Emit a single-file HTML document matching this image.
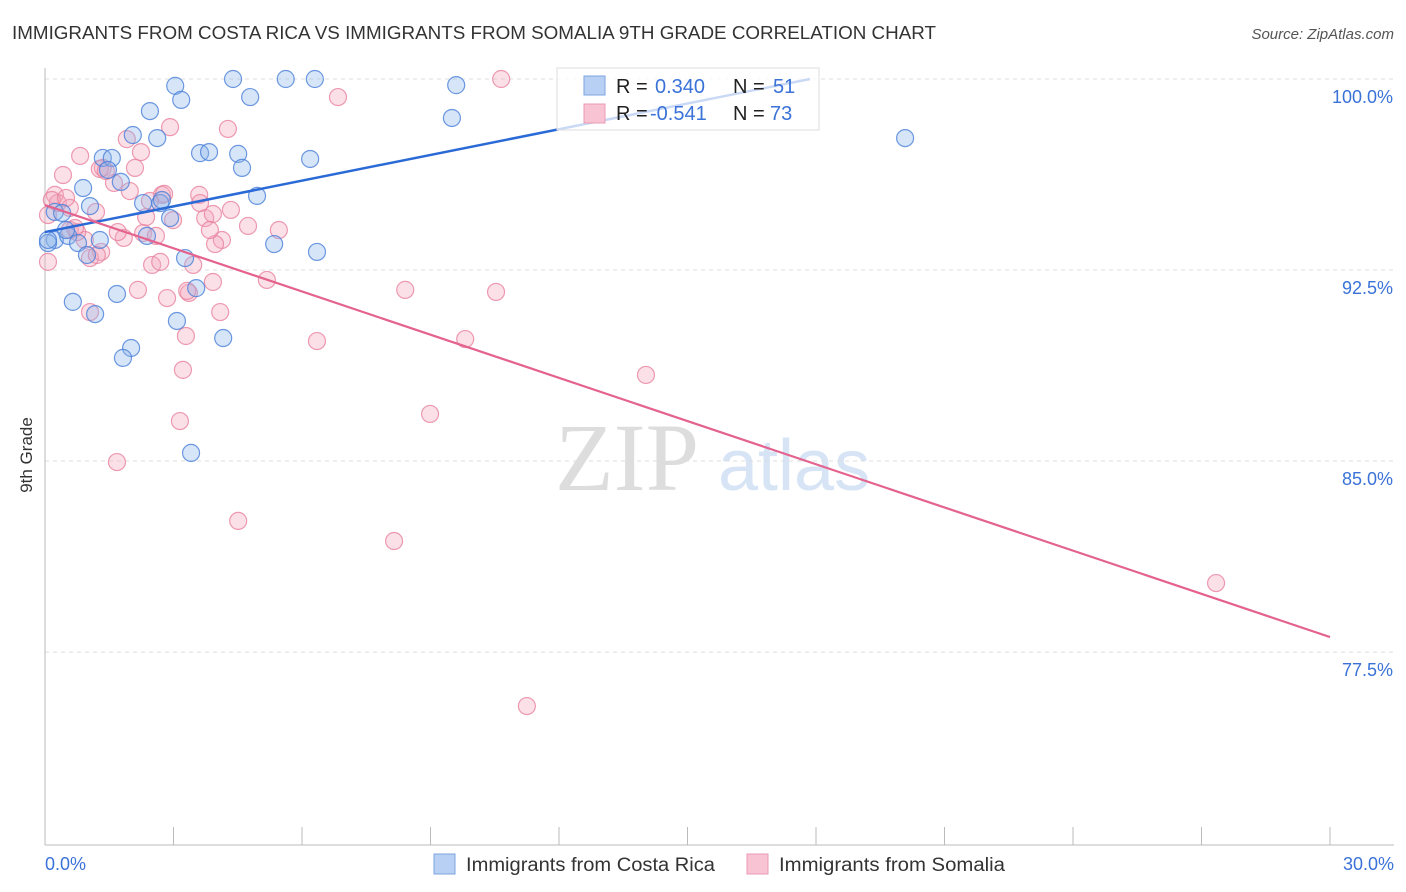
<!DOCTYPE html>
<html><head><meta charset="utf-8"><style>
body{margin:0;background:#fff;font-family:"Liberation Sans",sans-serif;}
svg{display:block}
</style></head><body>
<svg id="chart" width="1406" height="892">
<text x="12" y="39" font-size="18" fill="#333" textLength="924" lengthAdjust="spacingAndGlyphs">IMMIGRANTS FROM COSTA RICA VS IMMIGRANTS FROM SOMALIA 9TH GRADE CORRELATION CHART</text>
<text x="1394" y="39" font-size="15" fill="#555" font-style="italic" text-anchor="end">Source: ZipAtlas.com</text>
<text x="32" y="455" font-size="17" fill="#333" transform="rotate(-90 32 455)" text-anchor="middle">9th Grade</text>
<g><text x="555" y="490" font-size="96" fill="#ddd" font-family="Liberation Serif,serif">ZIP</text><text x="718" y="490" font-size="72" fill="#d6e4f5">atlas</text></g>
<g id="grid"></g><g id="axes"></g><g id="pts"></g><g id="trends"></g>
<g>
<rect x="557" y="68" width="262" height="62" fill="#fff" fill-opacity="0.75" stroke="#ddd"/>
<rect x="584" y="76" width="21" height="19" fill="#b7d0f3" stroke="#7ea6e0"/>
<rect x="584" y="104" width="21" height="19" fill="#f8c4d3" stroke="#eb9ab3"/>
<text x="616" y="93" font-size="20" fill="#222">R = <tspan x="655" fill="#3a72d8">0.340</tspan><tspan x="733">N = </tspan><tspan x="773" fill="#3a72d8">51</tspan></text>
<text x="616" y="120" font-size="20" fill="#222">R = <tspan x="650" fill="#3a72d8">-0.541</tspan><tspan x="733">N = </tspan><tspan x="770" fill="#3a72d8">73</tspan></text>
</g>
<g>
<rect x="434" y="854" width="21" height="20" fill="#b7d0f3" stroke="#7ea6e0"/>
<text x="466" y="871" font-size="19" fill="#333" textLength="249" lengthAdjust="spacingAndGlyphs">Immigrants from Costa Rica</text>
<rect x="747" y="854" width="21" height="20" fill="#f8c4d3" stroke="#eb9ab3"/>
<text x="779" y="871" font-size="19" fill="#333" textLength="226" lengthAdjust="spacingAndGlyphs">Immigrants from Somalia</text>
</g>
</svg>
<script>
const blueX=[3.04,4.39,5.62,6.30,9.60,9.50,3.18,2.45,4.79,2.05,2.62,20.08,1.35,1.56,3.62,3.83,4.51,4.60,6.19,1.47,1.77,0.89,0.23,0.40,1.05,2.29,2.69,2.92,4.95,2.73,0.23,0.54,0.77,1.28,2.38,0.07,0.98,3.27,5.35,6.35,1.68,0.65,1.17,3.53,3.08,4.16,2.01,1.82,3.41,0.07,0.49];
const blueY=[99.73,100,100,100,99.76,98.47,99.18,98.74,99.29,97.80,97.68,97.68,96.90,96.90,97.09,97.13,97.06,96.51,96.86,96.43,95.96,95.72,94.78,94.74,95.01,95.13,95.13,94.54,95.41,95.25,93.68,93.84,93.56,93.68,93.84,93.56,93.09,92.97,93.52,93.21,91.56,91.25,90.77,91.79,90.50,89.83,89.44,89.05,85.32,93.68,94.07];
const pinkX=[10.65,6.84,2.92,4.27,1.91,2.24,0.82,0.42,1.35,2.10,1.61,1.98,2.73,3.60,0.23,0.30,0.58,1.19,2.36,2.99,3.74,3.92,4.74,5.46,1.84,2.29,2.59,4.13,0.58,0.93,1.05,1.31,2.50,3.46,2.17,2.85,3.36,3.92,5.18,4.09,1.05,3.29,6.35,8.41,10.53,9.81,14.03,3.22,3.15,8.99,1.68,4.51,8.15,27.34,11.25,0.07,0.16,0.75,1.21,1.70,3.62,2.78,2.69,3.97,3.85,0.07,0.70,0.49,1.28,1.42,2.45,3.32,4.34];
const pinkY=[100,99.29,98.11,98.04,97.64,97.13,96.98,96.23,96.51,96.51,95.92,95.60,95.45,95.45,95.45,95.13,94.94,94.78,94.58,94.46,94.54,94.70,94.23,94.07,93.76,93.95,93.84,93.68,94.07,93.68,92.97,93.21,92.70,92.70,91.72,91.40,91.60,92.03,92.11,90.85,90.85,89.91,89.71,91.72,91.64,89.79,88.38,88.58,86.57,86.85,84.96,82.65,81.86,80.21,75.38,92.82,95.25,93.99,93.09,93.99,95.13,95.49,92.82,93.52,94.07,94.66,94.15,95.33,96.47,96.39,95.21,91.68,94.86];
const yTicks=[100,92.5,85,77.5];
const yTickLabels=["100.0%","92.5%","85.0%","77.5%"];
const xTicks=[0,3,6,9,12,15,18,21,24,27,30];
const blueTrend=[0,93.99,17.86,100];
const pinkTrend=[0,95.05,30,78.09];
const NS="http://www.w3.org/2000/svg";
const X0=45,X1=1330,Y0=79;
function sx(v){return X0+(v/30)*(X1-X0);}
function sy(v){return Y0+(100-v)*25.47;}
function mk(t,a,p){const e=document.createElementNS(NS,t);for(const k in a)e.setAttribute(k,a[k]);p.appendChild(e);return e;}
const grid=document.getElementById('grid'),axes=document.getElementById('axes'),pts=document.getElementById('pts'),tr=document.getElementById('trends');
yTicks.forEach((v,i)=>{
 const l=mk('line',{x1:X0,x2:1394,y1:sy(v),y2:sy(v),stroke:'#ddd','stroke-dasharray':'4,4'},grid);
 
 
 const t=mk('text',{x:1393,y:sy(v)+24,'font-size':18,fill:'#3a72d8','text-anchor':'end'},axes);
 t.textContent=yTickLabels[i];
 
 
});
const ax=mk('line',{x1:X0,x2:X0,y1:68,y2:845,stroke:'#bbb'},axes);


const bx=mk('line',{x1:X0,x2:1394,y1:845,y2:845,stroke:'#bbb'},axes);


xTicks.forEach(v=>{
 const l=mk('line',{x1:sx(v),x2:sx(v),y1:827,y2:845,stroke:'#bbb'},axes);
 
 
});
const xl=mk('text',{x:45,y:870,'font-size':18,fill:'#3a72d8'},axes);xl.textContent='0.0%';


const xr=mk('text',{x:1394,y:870,'font-size':18,fill:'#3a72d8','text-anchor':'end'},axes);xr.textContent='30.0%';


function dots(xs,ys,fill,stroke,name){xs.forEach((x,i)=>{
 const c=mk('circle',{cx:sx(x),cy:sy(ys[i]),r:8.5,fill:fill,'fill-opacity':0.35,stroke:stroke,'stroke-width':1.2,'stroke-opacity':0.8},pts);
 
 
});}
dots(pinkX,pinkY,'#f4a6bd','#e8829f','somalia-point');
dots(blueX,blueY,'#8db5ec','#4a80d8','costa-rica-point');
const b=mk('line',{x1:sx(blueTrend[0]),y1:sy(blueTrend[1]),x2:sx(blueTrend[2]),y2:sy(blueTrend[3]),stroke:'#2a6ad6','stroke-width':2.5},tr);


const p=mk('line',{x1:sx(pinkTrend[0]),y1:sy(pinkTrend[1]),x2:sx(pinkTrend[2]),y2:sy(pinkTrend[3]),stroke:'#e4638e','stroke-width':2.2},tr);


</script>
</body></html>
